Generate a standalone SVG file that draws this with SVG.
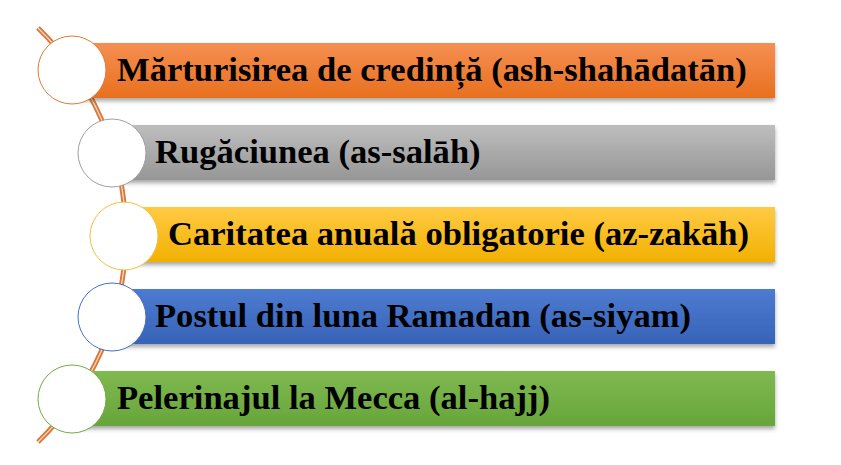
<svg xmlns="http://www.w3.org/2000/svg" width="841" height="465" viewBox="0 0 841 465">
<defs>
<linearGradient id="gO" x1="0" y1="0" x2="0" y2="1"><stop offset="0" stop-color="#F58F52"/><stop offset="1" stop-color="#E8701E"/></linearGradient>
<linearGradient id="gG" x1="0" y1="0" x2="0" y2="1"><stop offset="0" stop-color="#BEBEBE"/><stop offset="1" stop-color="#969696"/></linearGradient>
<linearGradient id="gY" x1="0" y1="0" x2="0" y2="1"><stop offset="0" stop-color="#FFCB45"/><stop offset="1" stop-color="#F2B000"/></linearGradient>
<linearGradient id="gB" x1="0" y1="0" x2="0" y2="1"><stop offset="0" stop-color="#4D7BD0"/><stop offset="1" stop-color="#3763B8"/></linearGradient>
<linearGradient id="gN" x1="0" y1="0" x2="0" y2="1"><stop offset="0" stop-color="#7FB950"/><stop offset="1" stop-color="#67A53A"/></linearGradient>
<filter id="sh" x="-5%" y="-20%" width="110%" height="150%"><feDropShadow dx="0" dy="3" stdDeviation="2" flood-color="#000" flood-opacity="0.35"/></filter>
</defs>
<style>
.t{font-family:"Liberation Serif","Times New Roman",serif;font-weight:bold;font-size:34.6px;fill:#000}
.c{fill:#fff;stroke-width:1}
</style>
<rect width="841" height="465" fill="#fff"/>
<g id="connectors">
<path d="M38,28 A288,288 0 0 1 38,442" fill="none" stroke="#D9773A" stroke-width="5"/>
<path d="M38,28 A288,288 0 0 1 38,442" fill="none" stroke="#FBD6BE" stroke-width="1.3"/>
</g>
<g id="n1">
<rect x="72" y="43" width="703" height="55" fill="url(#gO)" filter="url(#sh)"/>
<circle class="c" cx="72" cy="70" r="34" stroke="#E07B3C"/>
<text class="t" x="117" y="81">Mărturisirea de credință (ash-shahādatān)</text>
</g>
<g id="n2">
<rect x="112" y="125" width="663" height="55" fill="url(#gG)" filter="url(#sh)"/>
<circle class="c" cx="112" cy="153" r="34" stroke="#A0A0A0"/>
<text class="t" x="155" y="163">Rugăciunea (as-salāh)</text>
</g>
<g id="n3">
<rect x="124" y="207" width="651" height="55" fill="url(#gY)" filter="url(#sh)"/>
<circle class="c" cx="124" cy="236" r="34" stroke="#F2C040"/>
<text class="t" x="168" y="245">Caritatea anuală obligatorie (az-zakāh)</text>
</g>
<g id="n4">
<rect x="112" y="289" width="663" height="55" fill="url(#gB)" filter="url(#sh)"/>
<circle class="c" cx="112" cy="317" r="34" stroke="#4472C4"/>
<text class="t" x="155" y="327">Postul din luna Ramadan (as-siyam)</text>
</g>
<g id="n5">
<rect x="72" y="371" width="703" height="55" fill="url(#gN)" filter="url(#sh)"/>
<circle class="c" cx="72" cy="399" r="34" stroke="#70AD47"/>
<text class="t" x="117" y="409">Pelerinajul la Mecca (al-hajj)</text>
</g>
</svg>
